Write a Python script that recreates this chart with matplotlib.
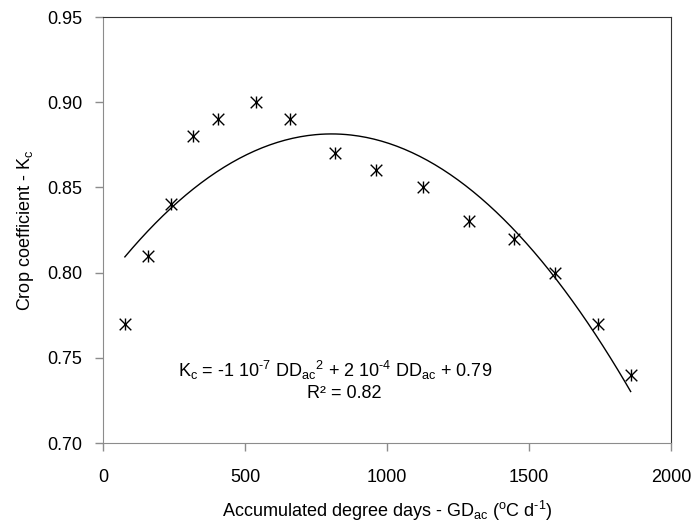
import numpy as np
import matplotlib
matplotlib.use('Agg')
from matplotlib import pyplot as plt

plt.rcParams['font.family'] = ['Liberation Sans', 'DejaVu Sans']
plt.rcParams['mathtext.fontset'] = 'custom'
plt.rcParams['mathtext.rm'] = 'Liberation Sans'
plt.rcParams['font.size'] = 13

#%% data
degree_days = [77, 160, 238, 318, 404, 538, 658, 817, 961, 1125, 1289, 1447, 1592, 1744, 1858]
kc = [0.77, 0.81, 0.84, 0.88, 0.89, 0.90, 0.89, 0.87, 0.86, 0.85, 0.83, 0.82, 0.80, 0.77, 0.74]

xticks = [0, 500, 1000, 1500, 2000]
yticks = [0.70, 0.75, 0.80, 0.85, 0.90, 0.95]

#%% set up figure
fig = plt.figure(figsize=(6.94, 5.30), dpi=100)
ax = fig.add_axes([103/694, 87/530, 568/694, 426/530])

# polynomial trendline (2nd order, as in the spreadsheet)
coef = np.polyfit(degree_days, kc, 2)
xfit = np.linspace(min(degree_days), max(degree_days), 200)
ax.plot(xfit, np.polyval(coef, xfit), color='k', lw=1.0, zorder=2)

# excel style "star" marker = x + vertical bar
ax.scatter(degree_days, kc, marker='x', s=70, color='k', linewidths=1.0, zorder=3)
ax.scatter(degree_days, kc, marker='|', s=85, color='k', linewidths=1.0, zorder=3)

ax.set_xlim([0, 2000])
ax.set_ylim([0.70, 0.95])
ax.set_xticks(xticks)
ax.set_yticks(yticks)
ax.set_yticklabels(['%.2f' % v for v in yticks])

for s in ['left', 'bottom']:
    ax.spines[s].set_color('#8c8c8c')
for s in ['top', 'right']:
    ax.spines[s].set_color('#333333')
ax.tick_params(direction='out', length=6, color='#8c8c8c', width=1, labelsize=13)
ax.tick_params(axis='x', pad=13)
ax.tick_params(axis='y', pad=9)

ax.set_xlabel(r'Accumulated degree days - GD$_\mathregular{ac}$ ($^\mathregular{o}$C d$^{\text{-1}}$)', labelpad=9)
ax.set_ylabel(r'Crop coefficient - K$_\mathregular{c}$', labelpad=8)

ax.text(817, 0.7389,
        r'K$_\mathregular{c}$ = -1 10$^{\text{-7}}$ DD$_\mathregular{ac}$$^\mathregular{2}$ + 2 10$^{\text{-4}}$ DD$_\mathregular{ac}$ + 0.79',
        ha='center', va='baseline')
ax.text(850, 0.7265, 'R² = 0.82', ha='center', va='baseline')

#%%
plt.savefig('out.png', dpi=100)
